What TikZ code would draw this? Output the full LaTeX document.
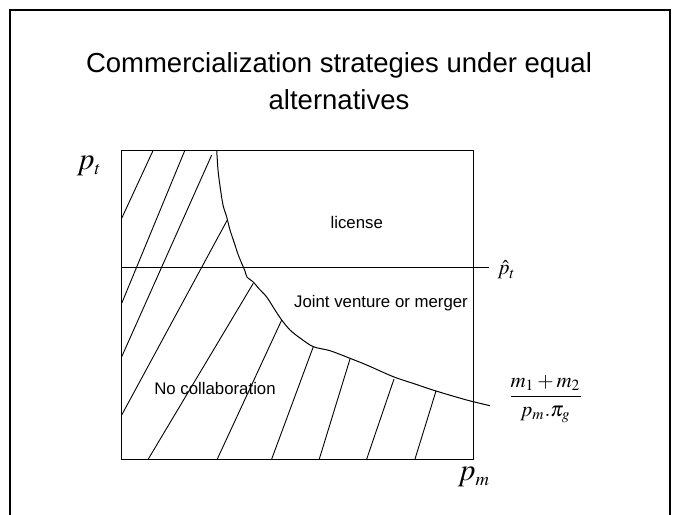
\documentclass[tikz,border=0pt]{standalone}
\usepackage{mathptmx}
\usepackage[no-math]{fontspec}
\setmainfont{Liberation Sans}
\usetikzlibrary{positioning}

\begin{document}
\begin{tikzpicture}[x=0.5pt,y=-0.5pt,line width=0.5pt]
\tikzstyle{region}=[inner sep=0pt,font=\fontsize{8.4}{10}\selectfont]
\tikzstyle{axislabel}=[inner sep=0pt,font=\fontsize{15.5}{18}\selectfont]
\tikzstyle{bound}=[inner sep=0pt,font=\fontsize{10.5}{12}\selectfont]
\tikzstyle{hatch}=[line width=0.45pt]

\useasboundingbox (0,0) rectangle (678,514);
\clip (0,0) rectangle (678,514);
\draw[line width=1pt] (10,10) rectangle (670,540);

\node[align=center,font=\fontsize{13.75}{18.5}\selectfont] (title) at (339,81)
  {Commercialization strategies under equal\\alternatives};

% plot frame
\coordinate (nw) at (121,150);
\coordinate (se) at (473,459);
\draw (nw) rectangle (se);
\coordinate (phatL) at (121,267);
\coordinate (phatR) at (489,267);
\draw (phatL) -- (phatR);

% boundary of the no-collaboration region
\draw[line width=0.5pt] plot[smooth,tension=0.5] coordinates {
  (216.7,150) (218,170) (220,186) (223,205) (226.7,217) (230,230) (234,242)
  (238.3,255) (242,264) (245,271) (247,277) (253.3,282) (258.3,288) (266.7,297)
  (275,310) (281.7,320) (290,330) (300,338) (313.3,346.7) (330,350.7)
  (350,358.3) (366.7,365) (393.3,376.7) (415,384) (436,391) (466.7,400) (490,405.7)};

% hatching
\foreach \xa/\ya/\xb/\yb in {121.7/218.3/153.3/150, 121.7/303.3/185/150,
    121.7/356.7/211.7/155, 121.7/415/227.3/220, 148.3/459/253.3/283.3,
    217.3/459/281.7/320, 271.7/459/313.3/346.7, 319.3/459/350/359,
    366.7/459/394/379, 415/459/436/391}
  \draw[hatch] (\xa,\ya) -- (\xb,\yb);

\node[region] (license) at (356.7,222.7) {license};
\node[region] (jv) at (381,303.3) {Joint venture or merger};
\node[region] (nocollab) at (215,388.3) {No collaboration};

\node[axislabel,anchor=east] (pt) at (102,166) {$p_{\scriptscriptstyle t}$};
\node[axislabel] (pm) at (474,477) {$p_{\scriptscriptstyle m}$};
\node[bound,anchor=west] (phat) at (497,270) {$\hat{p}_t$};
\node[bound] (ratio) at (545.5,399) {$\displaystyle\frac{m_1+m_2}{p_m.\pi_g}$};
\end{tikzpicture}
\end{document}
